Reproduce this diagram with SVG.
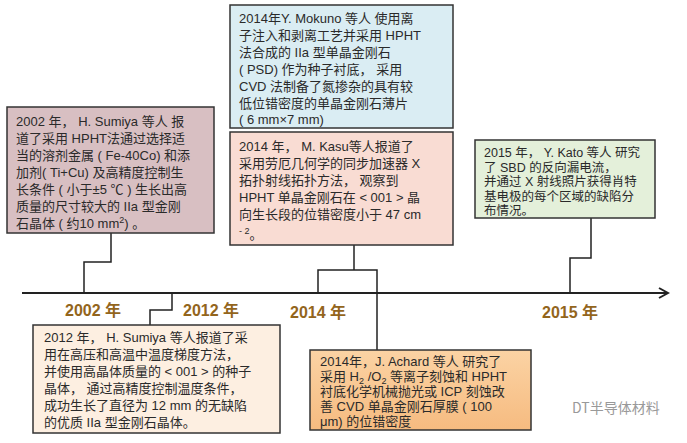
<svg xmlns="http://www.w3.org/2000/svg" width="687" height="443" viewBox="0 0 687 443">
<defs>
<style>
.b{stroke:#333;stroke-width:1.5}
.t{font-family:"Liberation Sans","Noto Sans CJK SC",sans-serif;font-size:13px;fill:#2a2a2a}
.y{font-family:"Liberation Sans","Noto Sans CJK SC",sans-serif;font-size:16px;font-weight:bold;fill:#93651c}
.c{fill:none;stroke:#222;stroke-width:1.5}
</style>
<linearGradient id="og" x1="0" y1="0" x2="0" y2="1"><stop offset="0" stop-color="#fbd3a4"/><stop offset="1" stop-color="#f6bb80"/></linearGradient>
<marker id="ar" markerWidth="12" markerHeight="12" refX="10" refY="6" orient="auto" markerUnits="userSpaceOnUse"><path d="M1,1 L10,6 L1,11" fill="none" stroke="#222" stroke-width="2"/></marker>
</defs>
<rect width="687" height="443" fill="#fff"/>
<g id="connectors">
<line class="c" x1="22" y1="293" x2="668" y2="293" marker-end="url(#ar)" style="stroke-width:2"/>
<polyline class="c" points="111,233 111,262 84,262 84,293"/>
<polyline class="c" points="172,293 172,310 150,310 150,325"/>
<line class="c" x1="354" y1="245" x2="354" y2="270"/>
<polyline class="c" points="318,293 318,270 377,270 377,350"/>
<polyline class="c" points="570,293 570,258 591,258 591,218"/>
</g>
<g id="years">
<text class="y" x="65" y="316">2002 年</text>
<text class="y" x="183" y="316">2012 年</text>
<text class="y" x="290" y="318">2014 年</text>
<text class="y" x="542" y="318">2015 年</text>
</g>
<g id="n2002">
<rect class="b" x="7" y="107" width="207" height="126" fill="#d8bfc2"/>
<text class="t"><tspan x="16" y="126">2002 年， H. Sumiya 等人 报</tspan><tspan x="16" y="143">道了采用 HPHT法通过选择适</tspan><tspan x="16" y="160">当的溶剂金属 ( Fe-40Co) 和添</tspan><tspan x="16" y="177">加剂( Ti+Cu) 及高精度控制生</tspan><tspan x="16" y="194">长条件 ( 小于±5 ℃ ) 生长出高</tspan><tspan x="16" y="211">质量的尺寸较大的 IIa 型金刚</tspan><tspan x="16" y="228">石晶体 ( 约10 mm</tspan><tspan font-size="9" y="223">2</tspan><tspan y="228">) 。</tspan></text>
</g>
<g id="nMokuno">
<rect class="b" x="230" y="5" width="223" height="123" fill="#daedf3"/>
<text class="t"><tspan x="239" y="23">2014年Y. Mokuno 等人 使用离</tspan><tspan x="239" y="40">子注入和剥离工艺并采用 HPHT</tspan><tspan x="239" y="57">法合成的 IIa 型单晶金刚石</tspan><tspan x="239" y="74">( PSD) 作为种子衬底， 采用</tspan><tspan x="239" y="91">CVD 法制备了氮掺杂的具有较</tspan><tspan x="239" y="108">低位错密度的单晶金刚石薄片</tspan><tspan x="239" y="124">( 6 mm×7 mm)</tspan></text>
</g>
<g id="nKasu">
<rect class="b" x="230" y="132" width="223" height="113" fill="#f9dcd3"/>
<text class="t"><tspan x="239" y="151">2014 年， M. Kasu等人报道了</tspan><tspan x="239" y="168">采用劳厄几何学的同步加速器 X</tspan><tspan x="239" y="185">拓扑射线拓扑方法， 观察到</tspan><tspan x="239" y="202">HPHT 单晶金刚石在 &lt; 001 &gt; 晶</tspan><tspan x="239" y="219">向生长段的位错密度小于 47 cm</tspan><tspan x="239" y="234" font-size="9">- 2</tspan><tspan y="239">。</tspan></text>
</g>
<g id="n2015">
<rect class="b" x="475" y="140" width="180" height="78" fill="#e4f0da"/>
<text class="t" style="font-size:12.5px"><tspan x="484" y="157">2015 年， Y. Kato 等人 研究</tspan><tspan x="484" y="171.5">了 SBD 的反向漏电流，</tspan><tspan x="484" y="186">并通过 X 射线照片获得肖特</tspan><tspan x="484" y="200.5">基电极的每个区域的缺陷分</tspan><tspan x="484" y="215">布情况。</tspan></text>
</g>
<g id="n2012">
<rect class="b" x="33" y="325" width="247" height="108" fill="#fdefe1"/>
<text class="t"><tspan x="44" y="342">2012 年， H. Sumiya 等人报道了采</tspan><tspan x="44" y="359">用在高压和高温中温度梯度方法，</tspan><tspan x="44" y="376">并使用高晶体质量的 &lt; 001 &gt; 的种子</tspan><tspan x="44" y="393">晶体， 通过高精度控制温度条件，</tspan><tspan x="44" y="410">成功生长了直径为 12 mm 的无缺陷</tspan><tspan x="44" y="427">的优质 IIa 型金刚石晶体。</tspan></text>
</g>
<g id="nAchard">
<rect class="b" x="310" y="350" width="221" height="80" fill="url(#og)"/>
<text class="t"><tspan x="320" y="366">2014年，J. Achard 等人 研究了</tspan><tspan x="320" y="381">采用 H</tspan><tspan font-size="9" y="384">2</tspan><tspan y="381"> /O</tspan><tspan font-size="9" y="384">2</tspan><tspan y="381"> 等离子刻蚀和 HPHT</tspan><tspan x="320" y="396">衬底化学机械抛光或 ICP 刻蚀改</tspan><tspan x="320" y="411">善 CVD 单晶金刚石厚膜 ( 100</tspan><tspan x="320" y="426">μm) 的位错密度</tspan></text>
</g>
<text x="572" y="413" style="font-family:'Noto Sans CJK SC',sans-serif;font-size:14px;fill:#999">DT半导体材料</text>
</svg>
